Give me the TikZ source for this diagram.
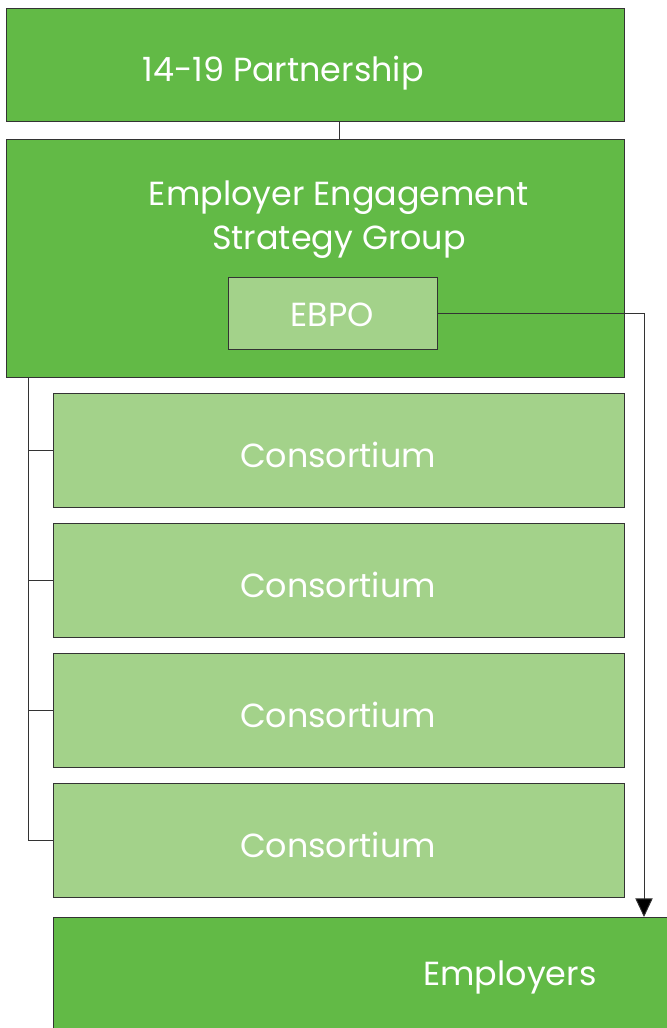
\documentclass[tikz,border=0pt]{standalone}
\usepackage{fontspec}
\setmainfont{Poppins}
\usetikzlibrary{arrows.meta}

\definecolor{leafgreen}{RGB}{98,186,70}
\definecolor{palegreen}{RGB}{163,210,138}
\definecolor{edgegrey}{RGB}{51,51,51}

\tikzset{
    darkbox/.style={draw=edgegrey, fill=leafgreen, line width=0.8pt, anchor=north west, inner sep=0pt},
    lightbox/.style={draw=edgegrey, fill=palegreen, line width=0.8pt, anchor=north west, inner sep=0pt},
    boxtext/.style={text=white, anchor=base, inner sep=0pt, font=\fontsize{28.5}{34}\selectfont},
    link/.style={draw=edgegrey, line width=0.8pt},
}

\begin{document}
\begin{tikzpicture}[x=0.03cm, y=-0.03cm]

    % Page frame, right and bottom edges cut the last box.
    \useasboundingbox (0,0) rectangle (667,1028);
    \clip (0,0) rectangle (667,1028);

    % Top level boxes.
    \node[darkbox, minimum width=18.54cm, minimum height=3.39cm] (partner) at (6,8) {};
    \node[boxtext] (partnertext) at (283,81) {14-19 Partnership};
    \node[darkbox, minimum width=18.54cm, minimum height=7.14cm] (esg) at (6,139) {};
    \node[boxtext] (esgline1) at (339,205) {Employer Engagement};
    \node[boxtext] (esgline2) at (339,249) {Strategy Group};
    \node[lightbox, minimum width=6.27cm, minimum height=2.16cm] (ebpo) at (228,277) {};
    \node[boxtext] (ebpotext) at (332,326) {EBPO};

    % Consortium boxes.
    \foreach \i/\y in {1/393, 2/523, 3/653, 4/783}
    {
        \node[lightbox, minimum width=17.13cm, minimum height=3.42cm] (cons\i) at (53,\y) {};
        \node[boxtext] (constext\i) at (338,\y+74) {Consortium};
    }

    \node[darkbox, minimum width=18.6cm, minimum height=3.6cm] (employers) at (53,917) {};
    \node[boxtext] (emptext) at (510,985) {Employers};

    % Connectors.
    \coordinate (tie) at (339,121);
    \draw[link] (tie) -- (tie |- esg.north);

    \coordinate (spine) at (28,377);
    \draw[link] (spine) |- (cons4.west);
    \foreach \i in {1,2,3}
        \draw[link] (spine |- cons\i.west) -- (cons\i.west);

    \coordinate (drop) at (644,917);
    \draw[link, -{Triangle[width=0.52cm, length=0.56cm, fill=black]}] (ebpo.east) -| (drop);

\end{tikzpicture}
\end{document}
